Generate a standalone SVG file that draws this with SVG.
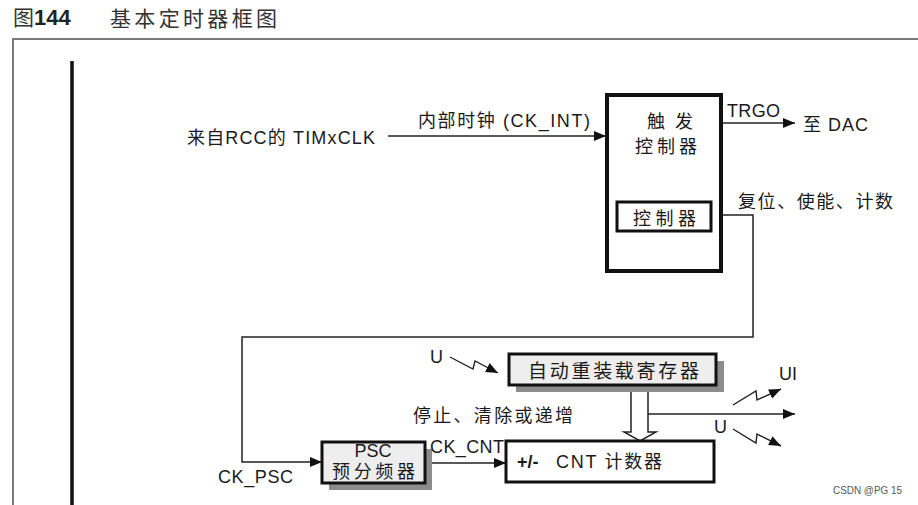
<svg xmlns="http://www.w3.org/2000/svg" width="918" height="505" viewBox="0 0 918 505">
<defs>
<style>
text{font-family:"Liberation Sans","Noto Sans CJK SC",sans-serif;fill:#1a1a1a;font-size:18px}
.title{fill:#333;font-size:21px}
.box{fill:#fff;stroke:#111}
.gbox{fill:#eeeeee;stroke:#111;stroke-width:3}
.shadow{fill:#8c8c8c}
.ln{fill:none;stroke:#222;stroke-width:1.5}
.zz{fill:none;stroke:#222;stroke-width:1.4}
</style>
<marker id="ah" viewBox="0 0 12 10" refX="12" refY="5" markerWidth="12" markerHeight="10" markerUnits="userSpaceOnUse" orient="auto">
<path d="M0,0 L12,5 L0,10 Z" fill="#111"/>
</marker>
</defs>
<rect width="918" height="505" fill="#fff"/>
<g id="title">
<text x="13" y="25" class="title">图<tspan font-weight="bold" fill="#222" font-size="22">144</tspan></text>
<text x="110" y="26" class="title" font-size="22" textLength="167" lengthAdjust="spacing">基本定时器框图</text>
</g>
<g id="frame">
<path d="M13,505 V39 H918" fill="none" stroke="#7a7a7a" stroke-width="2"/>
<line x1="72" y1="61" x2="72" y2="505" stroke="#111" stroke-width="3.5"/>
</g>
<g id="connectors">
<line class="ln" x1="388" y1="136" x2="606" y2="136" marker-end="url(#ah)"/>
<line class="ln" x1="722" y1="123" x2="795" y2="123" marker-end="url(#ah)"/>
<polyline class="ln" points="723,215 753,215 753,337 242,337 242,462 322,462" marker-end="url(#ah)"/>
<line class="ln" x1="425" y1="463" x2="506" y2="463" marker-end="url(#ah)"/>
<polygon points="631,386 631,432 624,432 640,441 656,432 648,432 648,386" fill="#fff" stroke="#222" stroke-width="1.5"/>
<line class="ln" x1="648" y1="414" x2="795" y2="414" marker-end="url(#ah)"/>
<polyline class="zz" points="450,357 473,369 475,361 498,373" marker-end="url(#ah)"/>
<polyline class="zz" points="733,405 756,391 757,400 781,389" marker-end="url(#ah)"/>
<polyline class="zz" points="733,429 756,443 757,434 781,446" marker-end="url(#ah)"/>
</g>
<g id="trigger-controller">
<rect class="box" x="607" y="95" width="114" height="176" stroke-width="4"/>
<text x="647" y="128">触</text>
<text x="675" y="128">发</text>
<text x="635" y="153" textLength="62" lengthAdjust="spacing">控制器</text>
</g>
<g id="controller">
<rect class="box" x="617" y="202" width="94" height="29" stroke-width="3"/>
<text x="633" y="225" textLength="63" lengthAdjust="spacing">控制器</text>
</g>
<g id="psc">
<rect class="shadow" x="329" y="449" width="103" height="41"/>
<rect class="gbox" x="322" y="442" width="103" height="41"/>
<text x="373" y="457" text-anchor="middle">PSC</text>
<text x="332" y="478" textLength="83" lengthAdjust="spacing">预分频器</text>
</g>
<g id="arr">
<rect class="shadow" x="516" y="361" width="208" height="31"/>
<rect class="gbox" x="509" y="354" width="207" height="31" stroke-width="3.5"/>
<text x="528" y="378" font-size="19" style="font-size:19px" textLength="171" lengthAdjust="spacing">自动重装载寄存器</text>
</g>
<g id="cnt">
<rect class="box" x="506" y="441" width="208" height="41" stroke-width="3"/>
<text x="517" y="468" font-weight="bold">+/-</text>
<text x="556" y="468" textLength="106" lengthAdjust="spacing">CNT 计数器</text>
</g>
<g id="labels">
<text x="187" y="144" textLength="188" lengthAdjust="spacing">来自RCC的 TIMxCLK</text>
<text x="418" y="127" textLength="172" lengthAdjust="spacing">内部时钟 (CK_INT)</text>
<text x="727" y="117" textLength="53" lengthAdjust="spacing">TRGO</text>
<text x="803" y="131" textLength="65" lengthAdjust="spacing">至 DAC</text>
<text x="738" y="208" textLength="155" lengthAdjust="spacing">复位、使能、计数</text>
<text x="430" y="363">U</text>
<text x="413" y="422" textLength="160" lengthAdjust="spacing">停止、清除或递增</text>
<text x="779" y="380">UI</text>
<text x="714" y="433">U</text>
<text x="218" y="483" textLength="75" lengthAdjust="spacing">CK_PSC</text>
<text x="430" y="453" textLength="74" lengthAdjust="spacing">CK_CNT</text>
<text x="833" y="494" style="fill:#555;font-size:11px" textLength="69" lengthAdjust="spacingAndGlyphs">CSDN @PG 15</text>
</g>
</svg>
